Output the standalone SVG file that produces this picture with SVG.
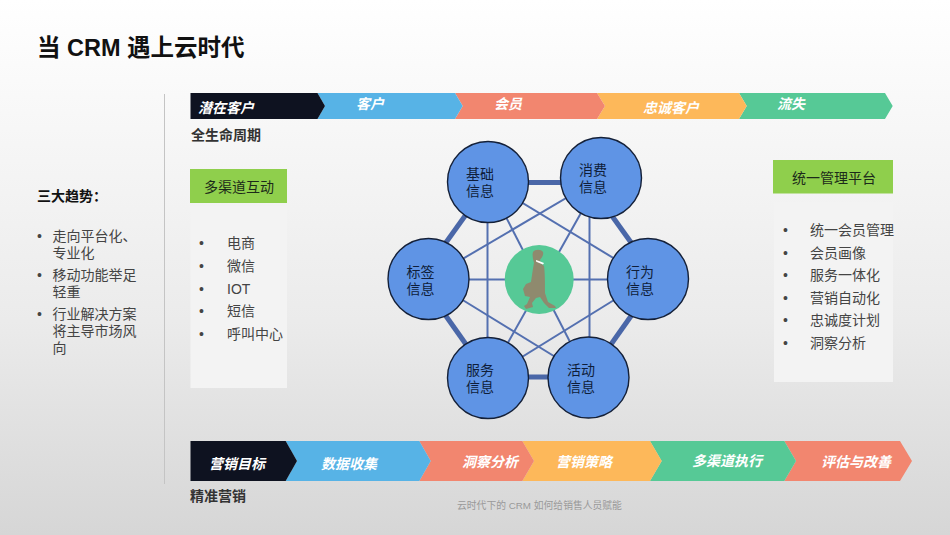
<svg xmlns="http://www.w3.org/2000/svg" width="950" height="535" viewBox="0 0 950 535">
<defs>
<linearGradient id="bg" x1="0" y1="0" x2="0" y2="1"><stop offset="0" stop-color="#ffffff"/><stop offset="0.3" stop-color="#f5f5f5"/><stop offset="0.6" stop-color="#ebebeb"/><stop offset="1" stop-color="#d6d6d6"/></linearGradient>
</defs>
<style>
text{font-family:"Liberation Sans","Noto Sans CJK SC",sans-serif;font-size:14px;fill:#444444}
.lab{font-weight:bold;font-style:italic;fill:#ffffff}
.h{font-weight:bold;fill:#333333}
.hd{fill:#1c2a1a}
.c{fill:#0f1e3a;text-anchor:middle}
.n{fill:#5f94e5;stroke:#142038;stroke-width:1.4}
.thick{stroke:#4a67a8;stroke-width:5;fill:none}
.thin{stroke:#5470b0;stroke-width:2;fill:none}
.navy{fill:#0e1220}.blue{fill:#57b3e6}.red{fill:#f2866f}.gold{fill:#fdb85a}.teal{fill:#56c996}
.green{fill:#8fcf4c}
.panel{fill:#f3f3f3}
</style>
<rect width="950" height="535" fill="url(#bg)"/>
<text x="37" y="56" style="font-size:23.500px;font-weight:bold;fill:#111">当 CRM 遇上云时代</text>
<line x1="164.500" y1="94" x2="164.500" y2="484" stroke="#c4c4c4" stroke-width="1"/>
<g id="trends">
<text x="37" y="201" style="font-weight:bold;fill:#111">三大趋势：</text>
<text x="37" y="241">•</text><text x="52.500" y="241">走向平台化、</text><text x="52.500" y="257.500">专业化</text>
<text x="37" y="280">•</text><text x="52.500" y="280">移动功能举足</text><text x="52.500" y="296.500">轻重</text>
<text x="37" y="319">•</text><text x="52.500" y="319">行业解决方案</text><text x="52.500" y="336">将主导市场风</text><text x="52.500" y="353">向</text>
</g>
<g id="lifecycle">
<polygon class="teal" points="739,93 885,93 892.700,106 885,119 739,119 746.700,106"/>
<polygon class="gold" points="597,93 739,93 746.700,106 739,119 597,119 605,106"/>
<polygon class="red" points="455,93 597,93 605,106 597,119 455,119 462.700,106"/>
<polygon class="blue" points="317.500,93 455,93 462.700,106 455,119 317.500,119 325,106"/>
<polygon class="navy" points="190.500,93 317.500,93 325,106 317.500,119 190.500,119"/>
<text class="lab" x="198" y="113">潜在客户</text>
<text class="lab" x="356" y="109">客户</text>
<text class="lab" x="494" y="109">会员</text>
<text class="lab" x="643" y="113">忠诚客户</text>
<text class="lab" x="777" y="109">流失</text>
<text class="h" x="191" y="140">全生命周期</text>
</g>
<g id="channels">
<rect class="panel" x="190.500" y="206" width="96.500" height="182"/>
<rect class="green" x="190" y="169" width="97" height="34"/>
<text class="hd" x="204" y="192">多渠道互动</text>
<text x="199" y="248">•</text><text x="227" y="248">电商</text>
<text x="199" y="271">•</text><text x="227" y="271">微信</text>
<text x="199" y="294">•</text><text x="227" y="294">IOT</text>
<text x="199" y="316">•</text><text x="227" y="316">短信</text>
<text x="199" y="339">•</text><text x="227" y="339">呼叫中心</text>
</g>
<g id="platform">
<rect class="panel" x="774" y="202" width="119" height="180"/>
<rect class="green" x="773" y="160" width="120" height="33.500"/>
<text class="hd" x="792" y="183">统一管理平台</text>
<text x="783" y="235">•</text><text x="810" y="235">统一会员管理</text>
<text x="783" y="258">•</text><text x="810" y="258">会员画像</text>
<text x="783" y="280">•</text><text x="810" y="280">服务一体化</text>
<text x="783" y="303">•</text><text x="810" y="303">营销自动化</text>
<text x="783" y="325">•</text><text x="810" y="325">忠诚度计划</text>
<text x="783" y="348">•</text><text x="810" y="348">洞察分析</text>
</g>
<g id="connectors">
<line class="thick" x1="520" y1="182.500" x2="570" y2="182.500"/>
<line class="thick" x1="470" y1="209" x2="442" y2="248"/>
<line class="thick" x1="607" y1="209" x2="635" y2="248"/>
<line class="thick" x1="636" y1="309" x2="607" y2="350"/>
<line class="thick" x1="560" y1="377" x2="515" y2="377"/>
<line class="thick" x1="441" y1="309" x2="470" y2="350"/>
<line class="thin" x1="487.500" y1="182" x2="487.500" y2="378"/>
<line class="thin" x1="589.500" y1="178" x2="589.500" y2="377"/>
<line class="thin" x1="428.500" y1="279.500" x2="648" y2="279.500"/>
<line class="thin" x1="488" y1="182" x2="648" y2="279"/>
<line class="thin" x1="428.500" y1="279" x2="601" y2="177.500"/>
<line class="thin" x1="428.500" y1="279" x2="588" y2="377"/>
<line class="thin" x1="488" y1="378" x2="648" y2="279"/>
<line class="thin" x1="488" y1="182" x2="588" y2="377"/>
<line class="thin" x1="601" y1="177.500" x2="488" y2="378"/>
</g>
<g id="node-base"><circle class="n" cx="488" cy="182" r="40.500"/><text class="c" x="480" y="179">基础</text><text class="c" x="480" y="195.500">信息</text></g>
<g id="node-spend"><circle class="n" cx="601" cy="178" r="40.500"/><text class="c" x="593" y="175">消费</text><text class="c" x="593" y="191.500">信息</text></g>
<g id="node-tag"><circle class="n" cx="428.500" cy="279" r="40.500"/><text class="c" x="420.500" y="277">标签</text><text class="c" x="420.500" y="293.500">信息</text></g>
<g id="node-behavior"><circle class="n" cx="648" cy="279" r="40.500"/><text class="c" x="640" y="277">行为</text><text class="c" x="640" y="293.500">信息</text></g>
<g id="node-service"><circle class="n" cx="488" cy="378" r="40.500"/><text class="c" x="480" y="375">服务</text><text class="c" x="480" y="391.500">信息</text></g>
<g id="node-activity"><circle class="n" cx="588.500" cy="377.500" r="40.500"/><text class="c" x="581" y="375">活动</text><text class="c" x="581" y="391.500">信息</text></g>
<g id="node-center">
<circle cx="539.200" cy="279.500" r="34.500" fill="#56c996"/>
<path fill="#8f8a6e" d="M533,252 C535,249 541,249 543,252 C544,256 541,258 540,260 L541,263 L544,266 C545,272 545,285 545,293 L548,302 L555,306 L556,308 L549,308 L544,303 L540,297 L536,298 L532,303 L533,307 L526,309 L524,306 L527,304 L530,297 L525,296 L523,289 L526,284 L531,282 C532,275 533,268 534,263 C533,259 532,255 533,252 Z"/>
<path fill="#ffffff" d="M536,260 L539,261 L544,263 L543,264.500 L538,262.500 L536,261.500 Z"/>
</g>
<g id="marketing">
<polygon class="red" points="784.300,441 900,441 912,461 900,481 784.300,481 796,461"/>
<polygon class="teal" points="650,441 784.300,441 796,461 784.300,481 650,481 661.700,461"/>
<polygon class="gold" points="522.300,441 650,441 661.700,461 650,481 522.300,481 534,461"/>
<polygon class="red" points="419.300,441 522.300,441 534,461 522.300,481 419.300,481 430.700,461"/>
<polygon class="blue" points="285.700,441 419.300,441 430.700,461 419.300,481 285.700,481 297,461"/>
<polygon class="navy" points="190.500,441 285.700,441 297,461 285.700,481 190.500,481"/>
<text class="lab" x="209" y="469">营销目标</text>
<text class="lab" x="321" y="469">数据收集</text>
<text class="lab" x="462" y="467">洞察分析</text>
<text class="lab" x="556" y="467">营销策略</text>
<text class="lab" x="692" y="466">多渠道执行</text>
<text class="lab" x="821" y="467">评估与改善</text>
<text class="h" x="190" y="501">精准营销</text>
</g>
<text x="457" y="509" style="font-size:9.800px;fill:#9a9a9a">云时代下的 CRM 如何给销售人员赋能</text>
</svg>
